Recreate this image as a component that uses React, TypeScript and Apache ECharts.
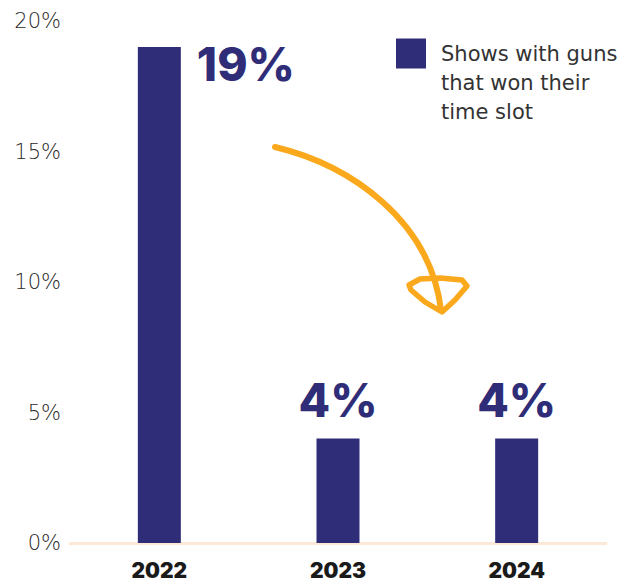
import React, { useEffect, useRef } from "react";
import * as echarts from "echarts";

const years = ["2022", "2023", "2024"];
const shareWon = [19, 4, 4];
const yTicks = [0, 5, 10, 15, 20];
const seriesName = "Shows with guns\nthat won their\ntime slot";

const NAVY = "#302d78";
const ORANGE = "#f9a91b";

export default function App() {
  const ref = useRef<HTMLDivElement>(null);
  useEffect(() => {
    document.body.style.margin = "0";
    document.body.style.overflow = "hidden";
    const chart = echarts.init(ref.current!, undefined, { renderer: "svg" });
    chart.setOption({
      animation: false,
      grid: { left: 70, right: 31, top: 21, bottom: 41, containLabel: false },
      legend: {
        show: true,
        left: 391,
        top: -24,
        itemWidth: 30,
        itemHeight: 30,
        icon: "rect",
        data: [seriesName],
        selectedMode: false,
        formatter: (name: string) => "\n\n" + name,
        textStyle: {
          fontFamily: "DejaVu Sans",
          fontSize: 21,
          color: "#333",
          lineHeight: 29,
          padding: [0, 0, 0, 10],
        },
      },
      xAxis: {
        type: "category",
        data: years,
        axisLine: { show: true, lineStyle: { color: "#fbe8d6", width: 3 } },
        axisTick: { show: false },
        axisLabel: {
          margin: 17,
          color: "#1a1a1a",
          fontFamily: "Inter",
          fontWeight: 900,
          fontSize: 21,
        },
      },
      yAxis: {
        type: "value",
        min: yTicks[0],
        max: yTicks[yTicks.length - 1],
        interval: 5,
        splitLine: { show: false },
        axisLine: { show: false },
        axisTick: { show: false },
        axisLabel: {
          formatter: "{value}%",
          margin: 9,
          color: "#2a2a2a",
          fontFamily: "DejaVu Sans",
          fontWeight: 300,
          fontSize: 21,
        },
      },
      series: [
        {
          name: seriesName,
          type: "bar",
          barWidth: 43,
          itemStyle: { color: NAVY },
          data: shareWon.map((v, i) =>
            i === 0
              ? {
                  value: v,
                  label: {
                    position: [59, -6],
                    align: "left",
                    verticalAlign: "top",
                  },
                }
              : v
          ),
          label: {
            show: true,
            position: "top",
            distance: 16,
            formatter: "{c}%",
            color: NAVY,
            fontFamily: "Inter",
            fontWeight: 800,
            fontSize: 46,
          },
        },
      ],
      graphic: [
        {
          type: "bezierCurve",
          shape: { x1: 275, y1: 147, cpx1: 350, cpy1: 165, cpx2: 430, cpy2: 220, x2: 441, y2: 310 },
          style: { stroke: ORANGE, lineWidth: 6, fill: null, lineCap: "round" },
        },
        {
          type: "polygon",
          shape: {
            points: [
              [409, 285],
              [420, 279],
              [440, 278],
              [462, 280],
              [467, 286],
              [455, 300],
              [442, 312],
              [425, 302],
              [411, 290],
            ],
          },
          style: { stroke: ORANGE, lineWidth: 5.5, fill: null, lineJoin: "round" },
        },
      ],
    });
    return () => chart.dispose();
  }, []);
  return (
    <div
      ref={ref}
      style={{ position: "absolute", left: 0, top: 0, width: 637, height: 584 }}
    />
  );
}
